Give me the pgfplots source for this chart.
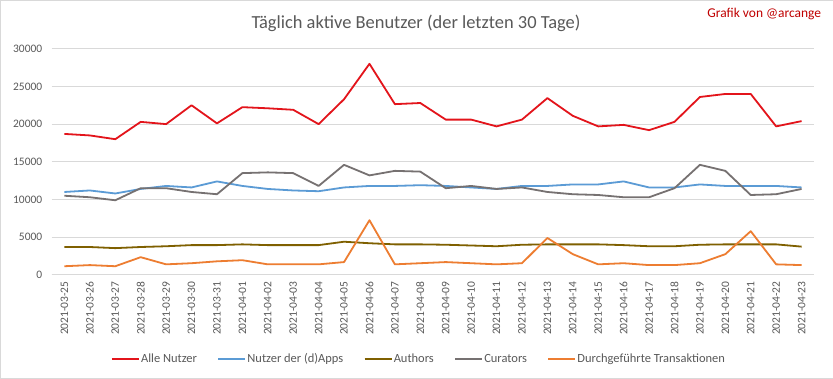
\documentclass[border=0pt]{standalone}
\usepackage{pgfplots}
\pgfplotsset{compat=1.18}
\usepackage{pgfplotstable}
\usepackage{fontspec}
\setmainfont{Carlito}
\definecolor{cRed}{HTML}{E3141B}
\definecolor{cBlue}{HTML}{5B9BD5}
\definecolor{cAuth}{HTML}{7F6000}
\definecolor{cCur}{HTML}{767171}
\definecolor{cTrans}{HTML}{ED7D31}
\definecolor{txt}{HTML}{595959}
\definecolor{grd}{HTML}{D9D9D9}
\definecolor{sig}{HTML}{C00000}
\pgfplotstableread{
x red blue auth cur trans
0 18700 11000 3700 10500 1150
1 18500 11200 3700 10300 1300
2 18000 10800 3550 9900 1150
3 20300 11400 3700 11500 2350
4 20000 11800 3800 11500 1400
5 22500 11600 3950 11000 1550
6 20100 12400 3950 10700 1800
7 22250 11800 4050 13500 1950
8 22100 11400 3950 13600 1400
9 21900 11200 3950 13500 1400
10 20000 11100 3950 11800 1400
11 23300 11600 4400 14600 1700
12 28000 11800 4200 13200 7250
13 22650 11800 4050 13800 1400
14 22800 11900 4050 13700 1550
15 20600 11800 4000 11500 1700
16 20600 11600 3900 11800 1550
17 19700 11400 3800 11400 1400
18 20600 11800 4000 11600 1550
19 23450 11800 4050 11000 4900
20 21100 12000 4050 10700 2750
21 19700 12000 4050 10600 1400
22 19900 12400 3950 10300 1550
23 19200 11600 3800 10300 1300
24 20300 11600 3800 11500 1300
25 23600 12000 4000 14600 1550
26 24000 11800 4050 13800 2750
27 24000 11800 4050 10600 5800
28 19700 11800 4050 10700 1400
29 20400 11600 3750 11400 1300
}\datatable
\begin{document}
\begin{tikzpicture}
\path[draw=grd, fill=white] (0.5bp,0.5bp) rectangle (832.5bp,378.5bp);
\node[text=txt, font=\fontsize{18.5}{22}\selectfont] at (416bp,355bp) {Täglich aktive Benutzer (der letzten 30 Tage)};
\node[text=sig, font=\fontsize{13.5}{16}\selectfont] at (764bp,365bp) {Grafik von @arcange};
\begin{axis}[
  at={(52bp,104bp)}, anchor=south west,
  scale only axis, width=762bp, height=226bp,
  xmin=-0.5, xmax=29.5, ymin=0, ymax=30000,
  ytick={0,5000,...,30000},
  xtick={0,...,29},
  xticklabels={2021-03-25,2021-03-26,2021-03-27,2021-03-28,2021-03-29,2021-03-30,2021-03-31,2021-04-01,2021-04-02,2021-04-03,2021-04-04,2021-04-05,2021-04-06,2021-04-07,2021-04-08,2021-04-09,2021-04-10,2021-04-11,2021-04-12,2021-04-13,2021-04-14,2021-04-15,2021-04-16,2021-04-17,2021-04-18,2021-04-19,2021-04-20,2021-04-21,2021-04-22,2021-04-23},
  x tick label style={rotate=90, anchor=east, font=\fontsize{11.5}{13}\selectfont, text=txt, xshift=-3bp},
  y tick label style={font=\fontsize{11.5}{13}\selectfont, text=txt, xshift=-6bp},
  /pgf/number format/assume math mode=true,
  /pgf/number format/1000 sep={},
  scaled y ticks=false,
  major tick length=0pt,
  ymajorgrids, grid style={grd, line width=0.8bp},
  axis x line*=bottom, axis y line*=left,
  x axis line style={grd, line width=0.8bp, -},
  y axis line style={draw=none},
  legend columns=-1,
  legend style={at={(0.481,-0.372)}, anchor=center, draw=none, fill=none,
    font=\fontsize{12.5}{14}\selectfont, text=txt,
    nodes={inner sep=1.2bp},
    /tikz/every even column/.append style={column sep=19bp}},
  legend image code/.code={\draw[#1, line width=2bp] (0bp,0bp) -- (27bp,0bp);},
  every axis plot/.append style={line width=1.8bp, line join=round, mark=none},
]
\addplot[cRed] table[x=x, y=red] {\datatable};
\addlegendentry{Alle Nutzer}
\addplot[cBlue] table[x=x, y=blue] {\datatable};
\addlegendentry{Nutzer der (d)Apps}
\addplot[cAuth] table[x=x, y=auth] {\datatable};
\addlegendentry{Authors}
\addplot[cCur] table[x=x, y=cur] {\datatable};
\addlegendentry{Curators}
\addplot[cTrans] table[x=x, y=trans] {\datatable};
\addlegendentry{Durchgeführte Transaktionen}
\end{axis}
\end{tikzpicture}
\end{document}
